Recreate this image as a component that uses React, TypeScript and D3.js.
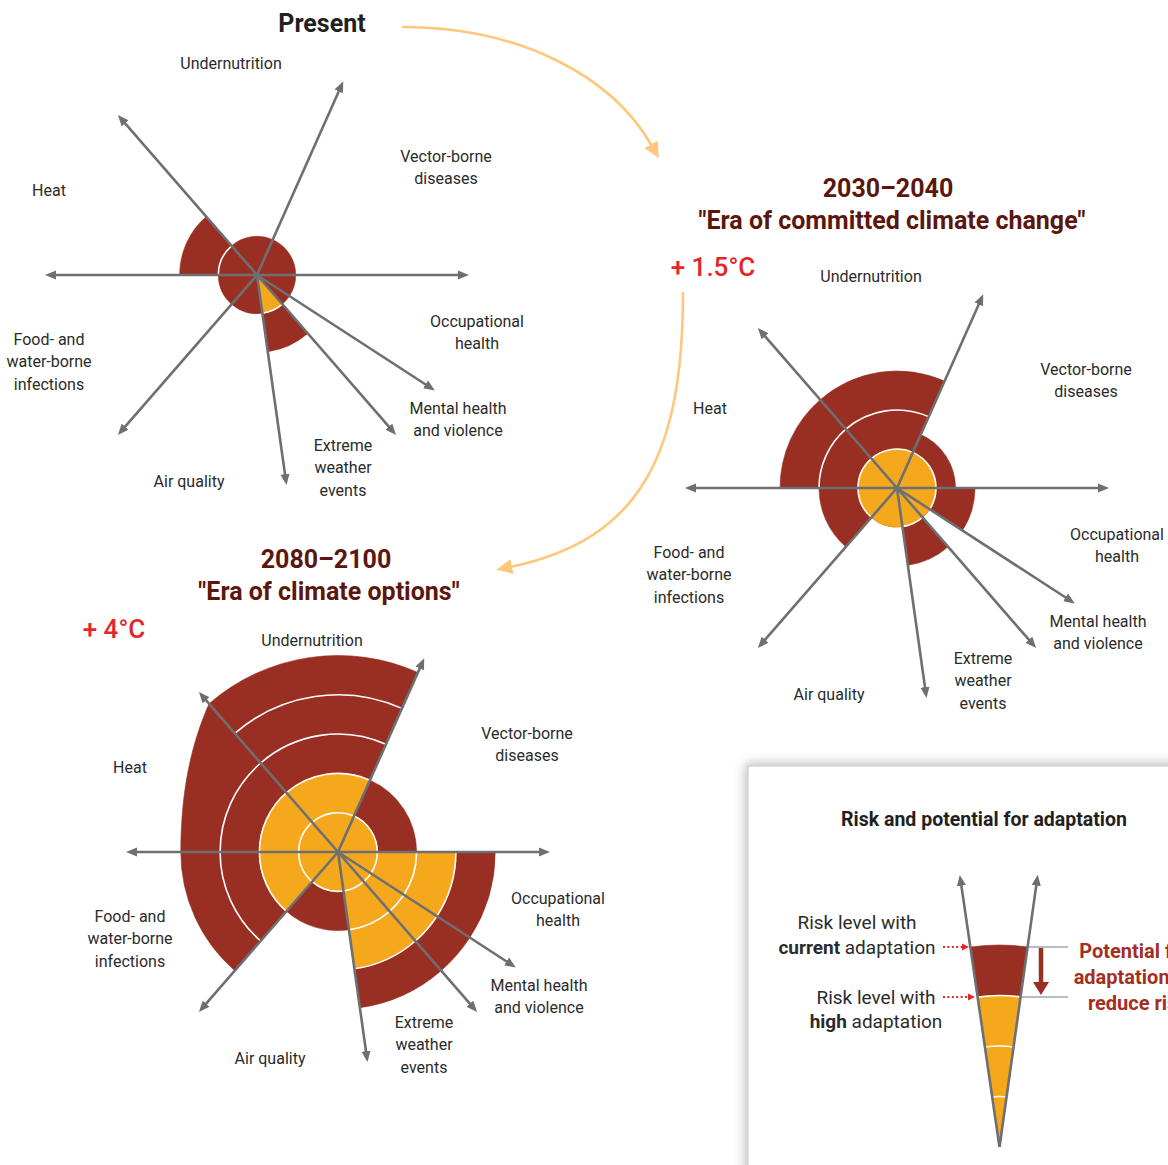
import React from "react";
import * as d3 from "d3";

// ---------- data ----------
const sectorLabels: string[][] = [
  ["Undernutrition"],
  ["Vector-borne", "diseases"],
  ["Occupational", "health"],
  ["Mental health", "and violence"],
  ["Extreme", "weather", "events"],
  ["Air quality"],
  ["Food- and", "water-borne", "infections"],
  ["Heat"],
];
// spoke directions (degrees clockwise from north); sector i ends at spoke i
const spokeAngles = [24, 90, 123, 139, 172, 221, 270, 319];

// risk levels (in rings) per sector: red = current adaptation, orange = high adaptation
const presentRed = [1, 1, 1, 1, 2, 1, 1, 2];
const presentOrange = [0, 0, 0, 0, 1, 0, 0, 0];

const committedRed = [3, 1.5, 2, 1, 2, 1, 2, 3];
const committedOrange = [1, 1, 1, 1, 1, 1, 1, 1];

const optionsRed = [5, 2, 4, 4, 4, 2, 4, 4];
const optionsRedEnd = [5, 2, 4, 4, 4, 2, 4, 5];
const optionsOrange = [2, 1, 3, 3, 3, 1, 2, 2];

const legendAngles = [-8.3, 8.0];
const legendRed = [4];
const legendOrange = [3];

// ---------- style / layout ----------
const RED = "#992e22";
const ORANGE = "#f6a81d";
const GRAY = "#6e6f71";
const TEXT = "#2b2b2b";
const BROWN = "#5b170d";
const TEMP = "#e3262b";
const CURVE = "#fdc87c";
const FONT = "Roboto, 'Open Sans', Arial, sans-serif";

const baseOffsets: [number, number][] = [
  [-26, -212], [189, -119], [220, 46], [201, 133],
  [86, 170], [-68, 206], [-208, 64], [-208, -85],
];
const committedOffsets: [number, number][] = baseOffsets.map((o, i) =>
  i === 7 ? [-187, -80] : o
);

const rad = (d: number) => (d * Math.PI) / 180;

function sectorSpans(angles: number[]): [number, number][] {
  return angles.map((a, i) => {
    const prev = angles[(i + angles.length - 1) % angles.length];
    const start = prev > a ? prev - 360 : prev;
    return [start, a];
  });
}

type RadialProps = {
  cx: number;
  cy: number;
  spans: [number, number][];
  spokes: number[];
  red: number[];
  redEnd?: number[];
  orange: number[];
  step: number;
  spokeLen: number;
  labels?: string[][];
  offsets?: [number, number][];
};

function Radial(p: RadialProps) {
  const r = d3.scaleLinear().domain([0, 5]).range([0, 5 * p.step]);
  const arc = d3.arc<any>();
  const redEnd = p.redEnd || p.red;

  const redPaths = p.spans.map(([a0, a1], i) => {
    const s0 = rad(a0), s1 = rad(a1);
    if (redEnd[i] === p.red[i]) {
      return arc({ innerRadius: 0, outerRadius: r(p.red[i]), startAngle: s0, endAngle: s1 }) as string;
    }
    const pts = d3.range(0, 81).map((k) => {
      const t = k / 80;
      const lv = p.red[i] + (redEnd[i] - p.red[i]) * t * t;
      return d3.pointRadial(s0 + (s1 - s0) * t, r(lv));
    });
    return "M0,0L" + pts.map((q) => q[0].toFixed(2) + "," + q[1].toFixed(2)).join("L") + "Z";
  });

  const orangePaths = p.spans.map(([a0, a1], i) =>
    p.orange[i] > 0
      ? (arc({ innerRadius: 0, outerRadius: r(p.orange[i]), startAngle: rad(a0), endAngle: rad(a1) }) as string)
      : null
  );

  const ringPaths: string[] = [];
  p.spans.forEach(([a0, a1], i) => {
    const lim = Math.min(p.red[i], redEnd[i]);
    d3.range(1, 6)
      .filter((L) => L < lim)
      .forEach((L) => {
        const path = d3.path();
        path.arc(0, 0, r(L), rad(a0) - Math.PI / 2, rad(a1) - Math.PI / 2);
        ringPaths.push(path.toString());
      });
  });

  return (
    <g transform={`translate(${p.cx},${p.cy})`}>
      {redPaths.map((d, i) => (
        <path key={"r" + i} d={d} fill={RED} stroke={RED} strokeWidth={0.6} />
      ))}
      {orangePaths.map((d, i) =>
        d ? <path key={"o" + i} d={d} fill={ORANGE} stroke={ORANGE} strokeWidth={0.6} /> : null
      )}
      {ringPaths.map((d, i) => (
        <path key={"w" + i} d={d} fill="none" stroke="#ffffff" strokeWidth={1.6} />
      ))}
      {p.spokes.map((a, i) => {
        const [x, y] = d3.pointRadial(rad(a), p.spokeLen - 10);
        return (
          <line key={"s" + i} x1={0} y1={0} x2={x} y2={y} stroke={GRAY} strokeWidth={2.6}
            markerEnd="url(#arrowGray)" />
        );
      })}
      {p.labels &&
        p.offsets &&
        p.labels.map((lines, i) => (
          <text key={"l" + i} textAnchor="middle" fontFamily={FONT} fontSize={16} fill={TEXT}>
            {lines.map((ln, k) => (
              <tspan key={k} x={p.offsets![i][0]} y={p.offsets![i][1] + k * 22.5} dy="0.35em">
                {ln}
              </tspan>
            ))}
          </text>
        ))}
    </g>
  );
}

export default function App() {
  const spans = sectorSpans(spokeAngles);
  const legendSpans: [number, number][] = [[legendAngles[0], legendAngles[1]]];
  return (
    <svg width={1168} height={1165} style={{ position: "absolute", left: 0, top: 0, background: "#fff" }}
      fontFamily={FONT}>
      <defs>
        <marker id="arrowGray" viewBox="0 -5 12 10" refX={1} refY={0} markerWidth={12} markerHeight={10}
          markerUnits="userSpaceOnUse" orient="auto">
          <path d="M0,-4.6L11,0L0,4.6Z" fill={GRAY} />
        </marker>
        <marker id="arrowCurve" viewBox="0 -8 18 16" refX={2} refY={0} markerWidth={18} markerHeight={16}
          markerUnits="userSpaceOnUse" orient="auto">
          <path d="M0,-7.5L16,0L0,7.5Z" fill={CURVE} />
        </marker>
        <marker id="arrowDot" viewBox="0 -4 8 8" refX={1} refY={0} markerWidth={8} markerHeight={8}
          markerUnits="userSpaceOnUse" orient="auto">
          <path d="M0,-3.5L7,0L0,3.5Z" fill={TEMP} />
        </marker>
        <marker id="arrowDark" viewBox="0 -8 14 16" refX={1} refY={0} markerWidth={14} markerHeight={16}
          markerUnits="userSpaceOnUse" orient="auto">
          <path d="M0,-8L13,0L0,8Z" fill={RED} />
        </marker>
        <filter id="boxShadow" x="-20%" y="-20%" width="140%" height="140%">
          <feDropShadow dx={-2} dy={-2} stdDeviation={6} floodColor="#000" floodOpacity={0.28} />
        </filter>
      </defs>

      {/* curved transition arrows */}
      <path d="M402,27 C520,27 612,76 652,146" fill="none" stroke={CURVE} strokeWidth={2.6}
        markerEnd="url(#arrowCurve)" />
      <path d="M683,292 C683,455 640,540 510,567" fill="none" stroke={CURVE} strokeWidth={2.6}
        markerEnd="url(#arrowCurve)" />

      {/* Present */}
      <text x={322} y={23} dy="0.35em" textAnchor="middle" fontSize={25} fontWeight={700} fill="#231f20">
        Present
      </text>
      <Radial cx={257} cy={275} spans={spans} spokes={spokeAngles} red={presentRed} orange={presentOrange}
        step={38.7} spokeLen={212} labels={sectorLabels} offsets={baseOffsets} />

      {/* 2030-2040 */}
      <text x={888} y={188} dy="0.35em" textAnchor="middle" fontSize={25} fontWeight={700} fill={BROWN}>
        2030–2040
      </text>
      <text x={892} y={220} dy="0.35em" textAnchor="middle" fontSize={25} fontWeight={700} fill={BROWN}>
        "Era of committed climate change"
      </text>
      <text x={713} y={267} dy="0.35em" textAnchor="middle" fontSize={26} fontWeight={500} fill={TEMP}>
        + 1.5°C
      </text>
      <Radial cx={897} cy={488} spans={spans} spokes={spokeAngles} red={committedRed} orange={committedOrange}
        step={39} spokeLen={212} labels={sectorLabels} offsets={committedOffsets} />

      {/* 2080-2100 */}
      <text x={326} y={559} dy="0.35em" textAnchor="middle" fontSize={25} fontWeight={700} fill={BROWN}>
        2080–2100
      </text>
      <text x={329} y={591} dy="0.35em" textAnchor="middle" fontSize={25} fontWeight={700} fill={BROWN}>
        "Era of climate options"
      </text>
      <text x={114} y={629} dy="0.35em" textAnchor="middle" fontSize={26} fontWeight={500} fill={TEMP}>
        + 4°C
      </text>
      <Radial cx={338} cy={852} spans={spans} spokes={spokeAngles} red={optionsRed} redEnd={optionsRedEnd}
        orange={optionsOrange} step={39.3} spokeLen={212} labels={sectorLabels} offsets={baseOffsets} />

      {/* legend box */}
      <rect x={748} y={766} width={520} height={520} fill="#fff" stroke="#c4c4c4" strokeWidth={1}
        filter="url(#boxShadow)" />
      <text x={984} y={819} dy="0.35em" textAnchor="middle" fontSize={19.5} fontWeight={700} fill="#231f20">
        Risk and potential for adaptation
      </text>
      <Radial cx={999.5} cy={1147} spans={legendSpans} spokes={legendAngles} red={legendRed}
        orange={legendOrange} step={50.5} spokeLen={275} />

      <g fontSize={19} fill={TEXT} textAnchor="middle">
        <text x={857} y={922} dy="0.35em">Risk level with</text>
        <text x={857} y={947} dy="0.35em">
          <tspan fontWeight={700}>current</tspan> adaptation
        </text>
        <text x={876} y={997} dy="0.35em">Risk level with</text>
        <text x={876} y={1021} dy="0.35em">
          <tspan fontWeight={700}>high</tspan> adaptation
        </text>
      </g>
      <line x1={943} y1={947} x2={963} y2={947} stroke={TEMP} strokeWidth={2} strokeDasharray="2,2.4"
        markerEnd="url(#arrowDot)" />
      <line x1={943} y1={997} x2={969} y2={997} stroke={TEMP} strokeWidth={2} strokeDasharray="2,2.4"
        markerEnd="url(#arrowDot)" />

      <line x1={1028} y1={947} x2={1068} y2={947} stroke="#6d7a94" strokeWidth={1.2} />
      <line x1={1020} y1={997} x2={1068} y2={997} stroke="#6d7a94" strokeWidth={1.2} />
      <line x1={1041} y1={948} x2={1041} y2={983} stroke={RED} strokeWidth={4.5} markerEnd="url(#arrowDark)" />

      {/* this text runs past the right edge of the page, as in the reference */}
      <g fontSize={20} fontWeight={700} fill="#a3301f" textAnchor="middle">
        <text x={1135} y={951} dy="0.35em">Potential for</text>
        <text x={1133} y={977} dy="0.35em">adaptation to</text>
        <text x={1138} y={1003} dy="0.35em">reduce risk</text>
      </g>
    </svg>
  );
}
